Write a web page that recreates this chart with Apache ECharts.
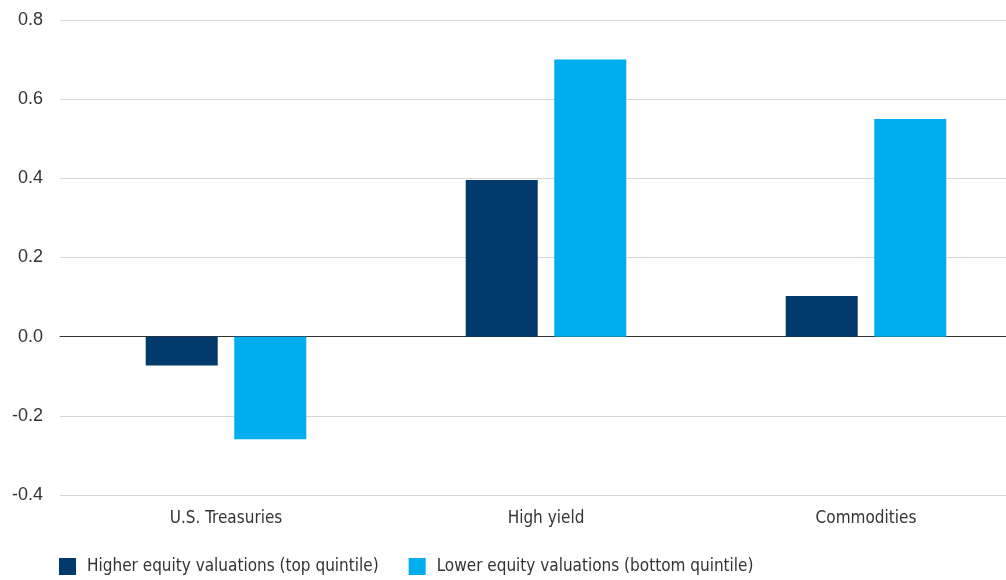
<!DOCTYPE html>
<html><head><meta charset="utf-8">
<script src="https://cdn.jsdelivr.net/npm/echarts@6/dist/echarts.min.js"></script>
<style>html,body{margin:0;padding:0;background:#fff;overflow:hidden;width:1006px;height:580px}#c{width:1026px;height:580px}</style>
</head><body><div id="c"></div>
<script>
const categories = ["U.S. Treasuries", "High yield", "Commodities"];
const seriesNames = ["Higher equity valuations (top quintile)", "Lower equity valuations (bottom quintile)"];
const higherValues = [-0.073, 0.396, 0.103];
const lowerValues = [-0.259, 0.70, 0.55];
const yTicks = [-0.4, -0.2, 0.0, 0.2, 0.4, 0.6, 0.8];

const narrow = '"Liberation Sans Narrow", "DejaVu Sans Condensed", sans-serif';
const chart = echarts.init(document.getElementById('c'), null, {renderer: 'canvas'});
chart.setOption({
  animation: false,
  color: ['#003A6C', '#00ADEE'],
  grid: [
    {left: 60, right: 20, top: 20, bottom: 85},
    {left: 66, right: 0, top: 20, bottom: 85}
  ],
  legend: {
    left: 54, top: 553, itemWidth: 17, itemHeight: 17, itemGap: 30,
    icon: 'rect',
    textStyle: {fontFamily: narrow, fontSize: 17, color: '#333', padding: [0, 0, 0, 6]},
    data: seriesNames
  },
  xAxis: [
    {gridIndex: 0, type: 'category', data: categories, axisLabel: {show: false}, axisTick: {show: false},
     axisLine: {show: true, onZero: true, lineStyle: {color: '#333', width: 1}}},
    {gridIndex: 1, type: 'category', data: categories, position: 'bottom',
     axisLine: {show: false, onZero: false}, axisTick: {show: false},
     axisLabel: {fontFamily: narrow, fontSize: 17, color: '#333', margin: 15}}
  ],
  yAxis: [
    {gridIndex: 0, type: 'value', min: yTicks[0], max: yTicks[yTicks.length-1], interval: 0.2,
     axisLine: {show: false}, axisTick: {show: false},
     axisLabel: {fontFamily: '"Liberation Sans", Arial, sans-serif', fontSize: 18, color: '#333', margin: 17,
       formatter: v => v.toFixed(1)},
     splitLine: {lineStyle: {color: '#d6d6d6', width: 1}}},
    {gridIndex: 1, type: 'value', min: yTicks[0], max: yTicks[yTicks.length-1], interval: 0.2, show: false,
     splitLine: {show: false}}
  ],
  series: [
    {name: seriesNames[0], type: 'bar', xAxisIndex: 1, yAxisIndex: 1, data: higherValues, barWidth: 72, barGap: '23%'},
    {name: seriesNames[1], type: 'bar', xAxisIndex: 1, yAxisIndex: 1, data: lowerValues, barWidth: 72, barGap: '23%'}
  ]
});
</script></body></html>
